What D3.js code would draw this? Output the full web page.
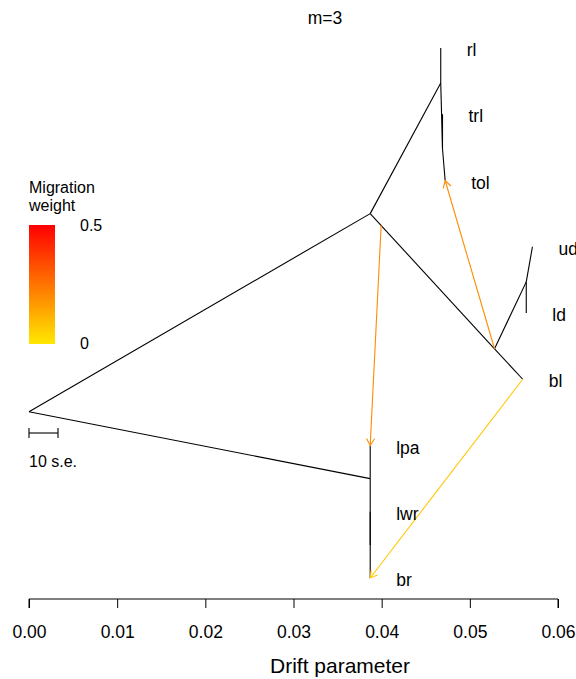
<!DOCTYPE html>
<html>
<head>
<meta charset="utf-8">
<script src="https://cdn.jsdelivr.net/npm/d3@7"></script>
<style>
  html, body { margin: 0; padding: 0; background: #fff; }
  svg text { font-family: "Liberation Sans", Arial, Helvetica, sans-serif; fill: #000; }
</style>
</head>
<body>
<svg id="chart" width="576" height="679"></svg>
<script>
// Tree nodes: name, drift (x), vertical slot (leaf order)
const nodeNames = ["root", "A", "B", "C", "C2", "rl", "trl", "tol", "D", "E", "ud", "ld", "bl", "lpa", "B2", "lwr", "br"];
const nodeDrift = [0, 0.0387, 0.0387, 0.0467, 0.0469, 0.0467, 0.0469, 0.0472, 0.0528, 0.0564, 0.0571, 0.0564, 0.0560, 0.0387, 0.0387, 0.0387, 0.0387];
const nodeSlot  = [5.49, 2.5, 6.5, 0.53, 1.52, 0, 1, 2, 4.54, 3.53, 3, 4, 5, 6, 7.5, 7, 8];

// Leaf populations that receive a label
const leafNames = ["rl", "trl", "tol", "ud", "ld", "bl", "lpa", "lwr", "br"];

// Tree branches (parent, child)
const branchParents  = ["root", "root", "A", "A", "C", "C", "C2", "C2", "D", "D", "E", "E", "B", "B", "B2", "B2"];
const branchChildren = ["A", "B", "C", "D", "rl", "C2", "trl", "tol", "E", "bl", "ud", "ld", "lpa", "B2", "lwr", "br"];

// Migration events: source branch, position along it, target node, weight
const migSourceParent = ["A", "A", "D"];
const migSourceChild  = ["D", "D", "bl"];
const migSourceFrac   = [0.088, 1.0, 1.0];
const migTarget       = ["lpa", "tol", "br"];
const migWeight       = [0.2, 0.2, 0.07];

// Axis ticks
const xTicks = [0, 0.01, 0.02, 0.03, 0.04, 0.05, 0.06];

const svg = d3.select("#chart");
const x = d3.scaleLinear().domain([0, 0.06]).range([29, 558]);
const y = d3.scaleLinear().domain([0, 8]).range([48, 578]);
const weightColor = d3.scaleLinear().domain([0, 0.5]).range(["#FFE800", "#FF0000"]).interpolate(d3.interpolateRgb);

const pos = {};
nodeNames.forEach((n, i) => { pos[n] = { x: x(nodeDrift[i]), y: y(nodeSlot[i]) }; });

// Title
svg.append("text").attr("x", 325).attr("y", 24).attr("text-anchor", "middle")
  .attr("font-size", 17.5).text("m=3");

// Branches
svg.append("g").selectAll("line").data(branchParents).join("line")
  .attr("x1", d => pos[d].x).attr("y1", d => pos[d].y)
  .attr("x2", (d, i) => pos[branchChildren[i]].x).attr("y2", (d, i) => pos[branchChildren[i]].y)
  .attr("stroke", "#000").attr("stroke-width", 1.1);

// Migration arrows
const mg = svg.append("g");
migTarget.forEach((t, i) => {
  const p = pos[migSourceParent[i]], c = pos[migSourceChild[i]], f = migSourceFrac[i];
  const sx = p.x + (c.x - p.x) * f, sy = p.y + (c.y - p.y) * f;
  const tx = pos[t].x, ty = pos[t].y;
  const col = weightColor(migWeight[i]);
  mg.append("line").attr("x1", sx).attr("y1", sy).attr("x2", tx).attr("y2", ty)
    .attr("stroke", col).attr("stroke-width", 1.1);
  const ang = Math.atan2(ty - sy, tx - sx), L = 8, spread = Math.PI / 6;
  const head = `M${tx - L * Math.cos(ang - spread)},${ty - L * Math.sin(ang - spread)}L${tx},${ty}L${tx - L * Math.cos(ang + spread)},${ty - L * Math.sin(ang + spread)}`;
  mg.append("path").attr("d", head).attr("fill", "none").attr("stroke", col).attr("stroke-width", 1.1);
});

// Leaf labels
svg.append("g").selectAll("text").data(leafNames).join("text")
  .attr("x", d => pos[d].x + 26).attr("y", d => pos[d].y + 8)
  .attr("font-size", 17.5).text(d => d);

// Migration weight legend
svg.append("text").attr("x", 29).attr("y", 193).attr("font-size", 16).text("Migration");
svg.append("text").attr("x", 29).attr("y", 211).attr("font-size", 16).text("weight");
const defs = svg.append("defs");
const grad = defs.append("linearGradient").attr("id", "mw").attr("x1", 0).attr("y1", 1).attr("x2", 0).attr("y2", 0);
d3.range(0, 1.0001, 0.1).forEach(t => {
  grad.append("stop").attr("offset", t).attr("stop-color", weightColor(t * 0.5));
});
svg.append("rect").attr("x", 29).attr("y", 225).attr("width", 26).attr("height", 119).attr("fill", "url(#mw)");
svg.append("text").attr("x", 80).attr("y", 231).attr("font-size", 16).text("0.5");
svg.append("text").attr("x", 80).attr("y", 349).attr("font-size", 16).text("0");

// Standard-error scale bar
const sb = svg.append("g").attr("stroke", "#000").attr("stroke-width", 1.1);
sb.append("line").attr("x1", 29).attr("x2", 58).attr("y1", 433).attr("y2", 433);
sb.append("line").attr("x1", 29).attr("x2", 29).attr("y1", 428).attr("y2", 438);
sb.append("line").attr("x1", 58).attr("x2", 58).attr("y1", 428).attr("y2", 438);
svg.append("text").attr("x", 29).attr("y", 467).attr("font-size", 16).text("10 s.e.");

// X axis
const axis = svg.append("g").attr("transform", "translate(0,599)")
  .call(d3.axisBottom(x).tickValues(xTicks).tickFormat(d3.format(".2f")).tickSize(9).tickPadding(27));
axis.select(".domain").attr("stroke", "#000").attr("d", `M${x(0)},9V0H${x(0.06)}V9`);
axis.selectAll("text").attr("font-size", 17.5).attr("fill", "#000").attr("dy", null)
  .attr("y", 39)
  .style("font-family", "'Liberation Sans', Arial, sans-serif");
svg.append("text").attr("x", 340).attr("y", 673).attr("text-anchor", "middle")
  .attr("font-size", 21).text("Drift parameter");
</script>
</body>
</html>
